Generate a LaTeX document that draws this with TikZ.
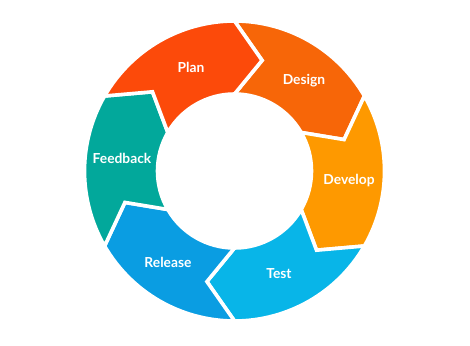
\documentclass[tikz,border=0pt]{standalone}
\usepackage{fontspec}
\setmainfont{Lato}
\definecolor{cplan}{RGB}{252,74,10}
\definecolor{cdesign}{RGB}{247,102,8}
\definecolor{cdevelop}{RGB}{254,153,0}
\definecolor{ctest}{RGB}{8,181,232}
\definecolor{crelease}{RGB}{10,157,226}
\definecolor{cfeedback}{RGB}{2,168,155}
\newcommand\ringseg[2]{%
  \filldraw[fill=#2, draw=white, line width=3.6pt, line join=miter]
    (#1:\Ro) -- ({#1-\dd}:\Rm) -- (#1:\Ri)
    arc[start angle=#1, end angle={#1-60}, radius=\Ri]
    -- ({#1-60-\dd}:\Rm) -- ({#1-60}:\Ro)
    arc[start angle={#1-60}, end angle=#1, radius=\Ro] -- cycle;}
\begin{document}
\begin{tikzpicture}[x=1pt,y=1pt,
  lbl/.style={text=white, font=\bfseries\fontsize{13.8}{16}\selectfont, inner sep=0pt}]
\useasboundingbox (0,0) rectangle (470,345);
\def\Ro{150}\def\Ri{77}\def\Rm{114}\def\dd{14}
\begin{scope}[shift={(234.5,174)}]
  \ringseg{90}{cdesign}
  \ringseg{30}{cdevelop}
  \ringseg{-30}{ctest}
  \ringseg{-90}{crelease}
  \ringseg{-150}{cfeedback}
  \ringseg{150}{cplan}
\end{scope}
\node[lbl] (plan) at (191,278) {Plan};
\node[lbl] (design) at (304,264) {Design};
\node[lbl] (develop) at (349,164) {Develop};
\node[lbl] (test) at (279,71) {Test};
\node[lbl] (release) at (168,83) {Release};
\node[lbl] (feedback) at (122,187) {Feedback};
\end{tikzpicture}
\end{document}
